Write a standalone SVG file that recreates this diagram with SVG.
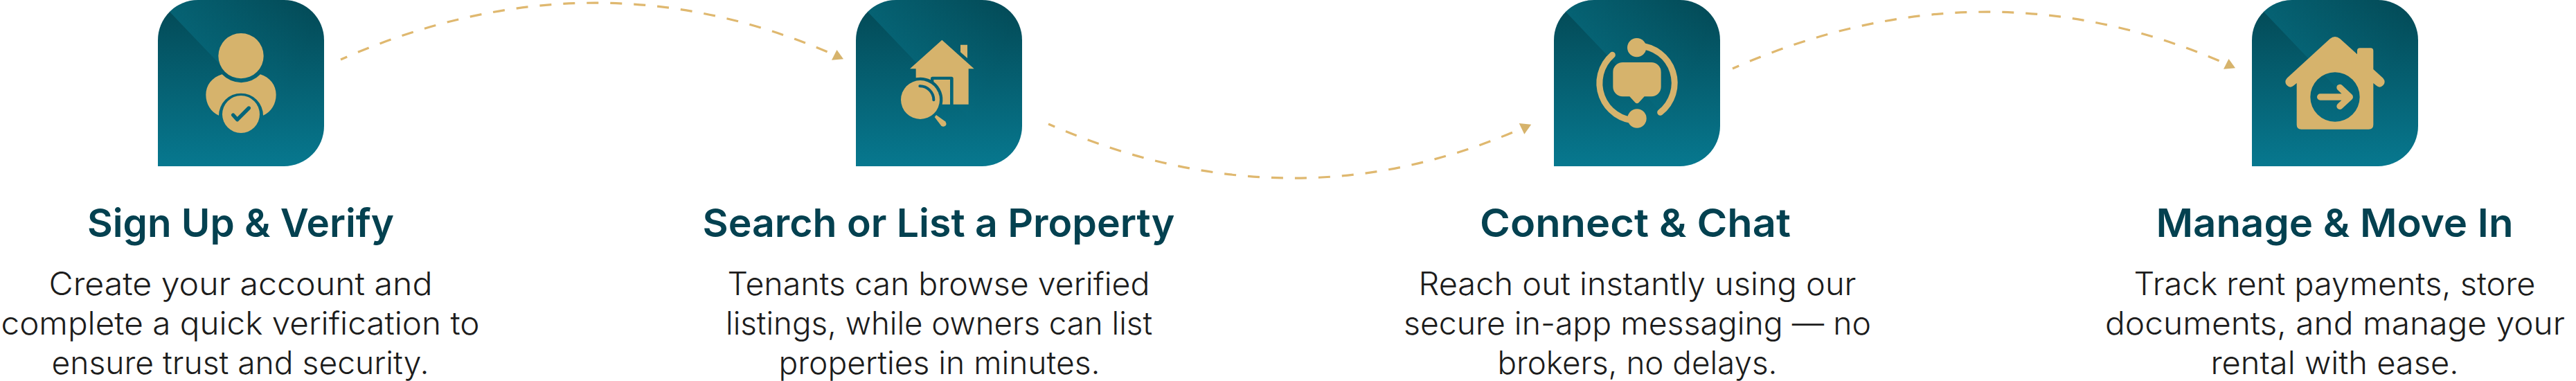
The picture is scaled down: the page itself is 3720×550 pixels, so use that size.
<svg xmlns="http://www.w3.org/2000/svg" xmlns:xlink="http://www.w3.org/1999/xlink" width="3720" height="550" viewBox="0 0 3720 550">
<style>
.gold{fill:#d6b36c}
.title{font-family:Inter,"Liberation Sans",sans-serif;font-size:57px;font-weight:600;fill:#044150;text-anchor:middle}
.body{font-family:Inter,"Liberation Sans",sans-serif;font-size:46px;font-weight:300;fill:#1c1c1c;text-anchor:middle}
.link{fill:none;stroke:#dfb86f;stroke-width:3.2;stroke-dasharray:17 17;stroke-dashoffset:7}
</style>
<defs>
<linearGradient id="base" gradientUnits="userSpaceOnUse" x1="0" y1="0" x2="0" y2="240"><stop offset="0" stop-color="#034854"/><stop offset="1" stop-color="#07788f"/></linearGradient>
<linearGradient id="sheen" gradientUnits="userSpaceOnUse" x1="17" y1="17" x2="204" y2="91"><stop offset="0" stop-color="#0a8ca5" stop-opacity=".35"/><stop offset="1" stop-color="#0a8ca5" stop-opacity="0"/></linearGradient>
<path id="tileShape" d="M0 240V58A58 58 0 0 1 58 0H182A58 58 0 0 1 240 58V182A58 58 0 0 1 182 240Z"/>
<clipPath id="tileClip"><use href="#tileShape"/></clipPath>
<g id="tile"><use href="#tileShape" fill="url(#base)"/><path d="M17 17L170 177H240V0H17Z" fill="url(#sheen)" clip-path="url(#tileClip)"/></g>
<marker id="headA" markerUnits="userSpaceOnUse" markerWidth="30" markerHeight="30" refX="0" refY="10" orient="0" overflow="visible"><path class="gold" d="M13.5 7L6 21.7L23 20.3Z"/></marker>
<marker id="headB" markerUnits="userSpaceOnUse" markerWidth="30" markerHeight="30" refX="0" refY="15" orient="0" overflow="visible"><path class="gold" d="M4.7 4L22.2 5.7L12.3 19.7Z"/></marker>
</defs>
<g id="connectors">
<path class="link" marker-end="url(#headA)" d="M492 86Q850 -72 1195 75"/>
<path class="link" marker-end="url(#headB)" d="M1514 179Q1860 330 2189 189"/>
<path class="link" marker-end="url(#headA)" d="M2502 99Q2860 -59 3205 88"/>
</g>
<g id="node-1">
<use href="#tile" x="228"/>
<g transform="translate(180 0) scale(.33333)">
<circle class="gold" cx="504" cy="242" r="98"/>
<path class="gold" d="M422 322A115 115 0 0 0 588 322C630 335 656 370 656 410C656 450 635 485 600 500A96 96 0 1 0 408 500C373 485 352 450 352 410C352 370 378 335 422 322Z"/>
<circle class="gold" cx="504" cy="495" r="81"/>
<path d="M470 498L488 518L538 468" fill="none" stroke="#05657a" stroke-width="16" stroke-linecap="round" stroke-linejoin="round"/>
</g>
<text class="title" x="347.500" y="342" textLength="443" lengthAdjust="spacingAndGlyphs">Sign Up &amp; Verify</text>
<text class="body" x="347.500" y="426" textLength="554" lengthAdjust="spacingAndGlyphs">Create your account and</text>
<text class="body" x="347" y="483" textLength="691" lengthAdjust="spacingAndGlyphs">complete a quick verification to</text>
<text class="body" x="347" y="540" textLength="545" lengthAdjust="spacingAndGlyphs">ensure trust and security.</text>
</g>
<g id="node-2">
<use href="#tile" x="1236"/>
<g transform="translate(1200 0) scale(.33333)">
<path class="gold" d="M481 173L620 298H596V452H530V340Q530 332 522 332H440Q432 332 432 340V346A97 97 0 0 0 368 337V298H342Z"/>
<path class="gold" d="M561 194H591V252L561 226Z"/>
<path class="gold" d="M445 345H516V452H482A97 97 0 0 0 445 354Z"/>
<circle class="gold" cx="387" cy="432" r="84"/>
<path d="M385 373A60 60 0 0 1 445 433" fill="none" stroke="#05607a" stroke-width="12" stroke-linecap="round"/>
<path class="gold" d="M449 507L456 498L495 526Q503 536 497 544Q488 552 478 545Z"/>
</g>
<text class="title" x="1355.500" y="342" textLength="682" lengthAdjust="spacingAndGlyphs">Search or List a Property</text>
<text class="body" x="1355.500" y="426" textLength="610" lengthAdjust="spacingAndGlyphs">Tenants can browse verified</text>
<text class="body" x="1356" y="483" textLength="616" lengthAdjust="spacingAndGlyphs">listings, while owners can list</text>
<text class="body" x="1356.500" y="540" textLength="464" lengthAdjust="spacingAndGlyphs">properties in minutes.</text>
</g>
<g id="node-3">
<use href="#tile" x="2244"/>
<g transform="translate(2210 0) scale(.33333)">
<path d="M355 238A162 162 0 0 0 462 522M470 198A162 162 0 0 1 563 487" fill="none" stroke="#d6b36c" stroke-width="27" stroke-linecap="round"/>
<circle class="gold" cx="461" cy="206" r="41"/>
<circle class="gold" cx="462" cy="513" r="41"/>
<path class="gold" d="M400 270H524A42 42 0 0 1 566 312V376A42 42 0 0 1 524 418H494L470 444Q462 451 454 444L430 418H400A42 42 0 0 1 358 376V312A42 42 0 0 1 400 270Z"/>
</g>
<text class="title" x="2361.500" y="342" textLength="449" lengthAdjust="spacingAndGlyphs">Connect &amp; Chat</text>
<text class="body" x="2364.500" y="426" textLength="632" lengthAdjust="spacingAndGlyphs">Reach out instantly using our</text>
<text class="body" x="2364.500" y="483" textLength="675" lengthAdjust="spacingAndGlyphs">secure in-app messaging — no</text>
<text class="body" x="2364.500" y="540" textLength="404" lengthAdjust="spacingAndGlyphs">brokers, no delays.</text>
</g>
<g id="node-4">
<use href="#tile" x="3252"/>
<g transform="translate(3220 0) scale(.33333)">
<path class="gold" fill-rule="evenodd" d="M434 168Q456 150 478 168L552 235V220Q552 208 564 208H610Q622 208 622 220V300L664 338Q678 355 664 370Q650 384 634 370L622 360V540Q622 560 602 560H310Q290 560 290 540V360L278 370Q262 384 248 370Q234 355 248 338ZM456 313A107 107 0 1 0 456 527A107 107 0 1 0 456 313Z"/>
<path d="M392 420H520M477 379L520 420L477 460" fill="none" stroke="#d6b36c" stroke-width="28" stroke-linecap="round" stroke-linejoin="round"/>
</g>
<text class="title" x="3371.500" y="342" textLength="516" lengthAdjust="spacingAndGlyphs">Manage &amp; Move In</text>
<text class="body" x="3371.500" y="426" textLength="580" lengthAdjust="spacingAndGlyphs">Track rent payments, store</text>
<text class="body" x="3372" y="483" textLength="664" lengthAdjust="spacingAndGlyphs">documents, and manage your</text>
<text class="body" x="3371.500" y="540" textLength="358" lengthAdjust="spacingAndGlyphs">rental with ease.</text>
</g>
</svg>
